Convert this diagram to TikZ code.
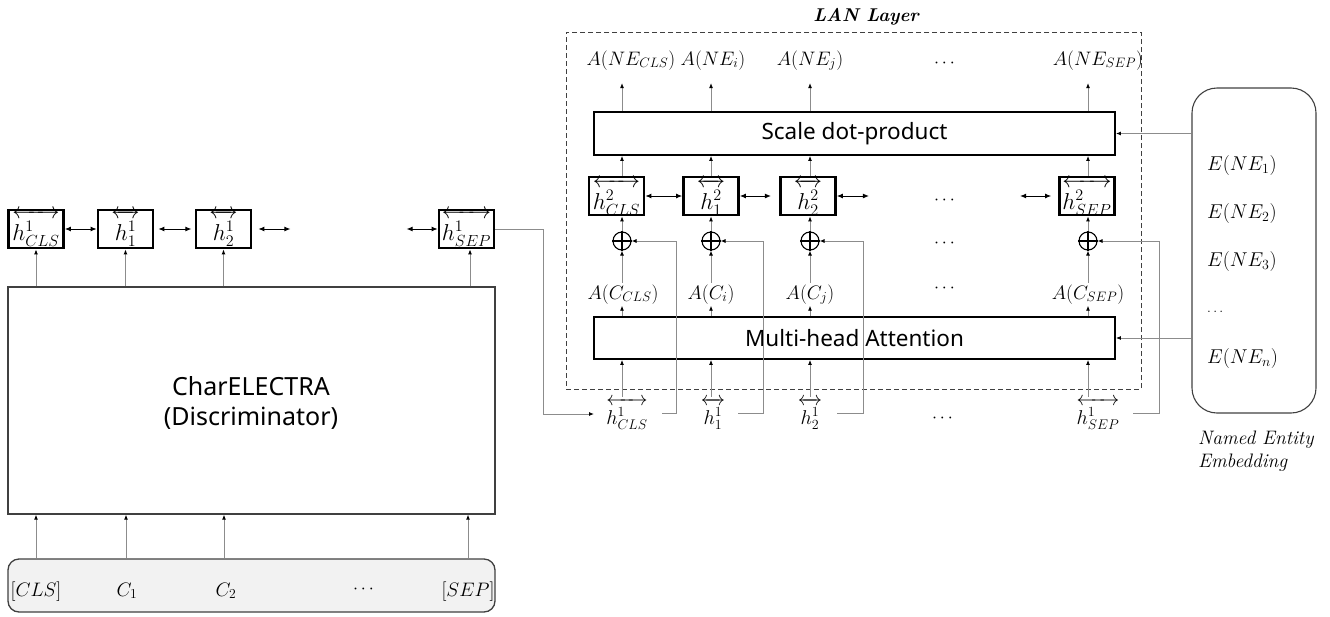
\RequirePackage{fix-cm}
\documentclass[tikz,border=0pt]{standalone}
\usepackage{amsmath}
\usepackage{fontspec}
\newfontfamily\uisans{Noto Sans}
\usetikzlibrary{arrows.meta,calc}
\definecolor{linegray}{HTML}{8C8C8C}
\definecolor{boxgray}{HTML}{404040}
\definecolor{inpfill}{HTML}{F2F2F2}
\newcommand{\hvec}[1]{\overleftrightarrow{\rule{0pt}{0.93em}#1}}
\begin{document}
\begin{tikzpicture}[x=1pt,y=-1pt,
  hbox/.style={draw=black, line width=2.8pt, minimum width=55pt, minimum height=38pt, inner sep=0pt,
    font=\fontsize{23}{26}\selectfont, text height=26pt, text depth=4pt},
  hboxr/.style={hbox, text height=30pt, text depth=4pt},
  bigbox/.style={draw=black, line width=1.8pt, inner sep=0pt, font=\uisans\fontsize{22.5}{26}\selectfont},
  flow/.style={draw=linegray, line width=0.9pt, -{Latex[length=5pt,width=4pt,black]}},
  link/.style={draw=black, line width=0.9pt, {Latex[length=6pt,width=5pt]}-{Latex[length=6pt,width=5pt]}},
  mlab/.style={font=\fontsize{19.5}{22}\selectfont, inner sep=1pt},
  alab/.style={mlab, text height=15pt, text depth=5.5pt, anchor=base},
  blab/.style={font=\fontsize{20}{22}\selectfont, inner sep=1pt, anchor=base},
  dots/.style={font=\fontsize{18}{20}\selectfont, inner sep=0pt, anchor=base},
  elab/.style={font=\fontsize{20}{22}\selectfont, inner sep=1pt, anchor=base west},
  plus/.style={draw=black, line width=1.1pt, circle, minimum size=18pt, inner sep=0pt},
]
\useasboundingbox (0,0) rectangle (1330,616);

% ---------------- left part ----------------
\node[draw=boxgray, line width=1.3pt, minimum width=487pt, minimum height=227pt, inner sep=0pt] (cel) at (251.5,400.5) {};
\node[font=\uisans\fontsize{25}{30}\selectfont, inner sep=0pt, anchor=base] (celA) at (251,395) {CharELECTRA};
\node[font=\uisans\fontsize{25}{30}\selectfont, inner sep=0pt, anchor=base] (celB) at (251,425) {(Discriminator)};

\node[draw=boxgray, line width=1.3pt, fill=inpfill, rounded corners=11pt, minimum width=487pt, minimum height=53pt, inner sep=0pt] (inp) at (251.5,585.5) {};
\node[alab] (i1) at (36,596) {$[CLS]$};
\node[alab] (i2) at (127,596) {$C_1$};
\node[alab] (i3) at (226,596) {$C_2$};
\node[dots] (i4) at (365,593.5) {$\cdots$};
\node[alab] (i5) at (468,596) {$[SEP]$};

\node[hbox] (hc) at (36,229) {$\hvec{h^1_{CLS}}$};
\node[hbox] (ha) at (125.5,229) {$\hvec{h^1_{1}}$};
\node[hbox] (hb) at (223.5,229) {$\hvec{h^1_{2}}$};
\node[hbox] (hs) at (466.5,229) {$\hvec{h^1_{SEP}}$};

% arrows input -> CharELECTRA
\draw[flow] (i1 |- inp.north) -- (i1 |- cel.south);
\draw[flow] ([xshift=-1pt]i2.north |- inp.north) -- ([xshift=-1pt]i2.north |- cel.south);
\draw[flow] ([xshift=-2pt]i3.north |- inp.north) -- ([xshift=-2pt]i3.north |- cel.south);
\draw[flow] (i5 |- inp.north) -- (i5 |- cel.south);
% arrows CharELECTRA -> h boxes
\draw[flow] (hc |- cel.north) -- (hc.south);
\draw[flow] (ha |- cel.north) -- (ha.south);
\draw[flow] (hb |- cel.north) -- (hb.south);
\draw[flow] ([xshift=3.5pt]hs.south |- cel.north) -- ([xshift=3.5pt]hs.south);
% bidirectional links
\draw[link] (hc.east) -- (ha.west);
\draw[link] ([xshift=4pt]ha.east) -- ++(33,0);
\draw[link] ([xshift=6pt]hb.east) -- ++(32,0);
\draw[link] (hs.west) -- ++(-31,0);

% ---------------- LAN layer ----------------
\node[draw=boxgray, dashed, dash pattern=on 5pt off 3pt, line width=0.9pt, minimum width=575pt, minimum height=357pt, inner sep=0pt] (lan) at (853.5,210.5) {};
\node[font=\bfseries\itshape\fontsize{18.5}{20}\selectfont, inner sep=0pt, anchor=base] (lant) at (866,21) {LAN Layer};

\node[bigbox, minimum width=521pt, minimum height=43pt] (sdp) at (854.5,133.5) {Scale dot-product};
\node[bigbox, minimum width=521pt, minimum height=42pt] (mha) at (854.5,338) {Multi-head Attention};

% top labels
\node[alab] (ne1) at (631,65) {$A(NE_{CLS})$};
\node[alab] (ne2) at (713,65) {$A(NE_i)$};
\node[alab] (ne3) at (810,65) {$A(NE_j)$};
\node[dots] (ne0) at (946,67) {$\cdots$};
\node[alab] (ne4) at (1098,65) {$A(NE_{SEP})$};

% h2 boxes
\node[hboxr] (g1) at (616.5,196) {$\hvec{h^2_{CLS}}$};
\node[hboxr] (g2) at (711,196) {$\hvec{h^2_{1}}$};
\node[hboxr] (g3) at (808,196) {$\hvec{h^2_{2}}$};
\node[hboxr] (g4) at (1087,196) {$\hvec{h^2_{SEP}}$};
\node[dots] (g0) at (946,204.5) {$\cdots$};

% plus circles
\node[plus] (p1) at (622,241) {};
\node[plus] (p2) at (711,241) {};
\node[plus] (p3) at (810,241) {};
\node[plus] (p4) at (1088,241) {};
\foreach \p in {p1,p2,p3,p4}{
  \draw[line width=1.1pt] (\p.north) -- (\p.south) (\p.west) -- (\p.east);
}
\node[dots] (p0) at (946,247.5) {$\cdots$};

% A(C) labels
\node[alab] (ac1) at (623,299) {$A(C_{CLS})$};
\node[alab] (ac2) at (711,299) {$A(C_i)$};
\node[alab] (ac3) at (810,299) {$A(C_j)$};
\node[dots] (ac0) at (946,292.5) {$\cdots$};
\node[alab] (ac4) at (1088,299) {$A(C_{SEP})$};

% bottom h1 labels
\node[blab] (l1) at (627,424) {$\hvec{h^1_{CLS}}$};
\node[blab] (l2) at (713,424) {$\hvec{h^1_{1}}$};
\node[blab] (l3) at (810,424) {$\hvec{h^1_{2}}$};
\node[dots] (l0) at (944,422.5) {$\cdots$};
\node[blab] (l4) at (1098,424) {$\hvec{h^1_{SEP}}$};

% vertical flows
\foreach \i in {1,2,3,4}{
  \draw[flow] (p\i |- l\i.north) -- (p\i |- mha.south);
  \draw[flow] (p\i |- mha.north) -- (p\i |- ac\i.south);
  \draw[flow] (p\i |- ac\i.north) -- (p\i.south);
  \draw[flow] (p\i.north) -- (p\i |- g\i.south);
  \draw[flow] (p\i |- g\i.north) -- (p\i |- sdp.south);
  \draw[flow] (p\i |- sdp.north) -- ++(0,-28);
}

% bidirectional links h2
\draw[link] (g1.east) -- (g2.west);
\draw[link] (g2.east) -- ++(31,0);
\draw[link] (g3.east) -- ++(32,0);
\draw[link] ([xshift=-7pt]g4.west) -- ++(-31,0);

% residual connections
\coordinate (r1) at (662,413); \coordinate (k1) at (676,413);
\coordinate (r2) at (738,413); \coordinate (k2) at (763,413);
\coordinate (r3) at (837,413); \coordinate (k3) at (863,413);
\coordinate (r4) at (1133,413); \coordinate (k4) at (1159,413);
\foreach \i in {1,2,3,4}{
  \draw[flow] (r\i) -- (k\i) |- (p\i.east);
}

% link from CharELECTRA to LAN layer
\coordinate (j0) at (543,414);
\coordinate (t0) at (594,414);
\draw[flow] (hs.east) -| (j0) -- (t0);

% ---------------- Named entity embedding ----------------
\node[draw=boxgray, line width=1.1pt, rounded corners=25pt, minimum width=124pt, minimum height=325pt, inner sep=0pt] (neb) at (1254,250.5) {};
\node[elab] (e1) at (1206,170) {$E(NE_1)$};
\node[elab] (e2) at (1206,218) {$E(NE_2)$};
\node[elab] (e3) at (1206,266) {$E(NE_3)$};
\node[dots, anchor=base west, font=\fontsize{14}{16}\selectfont] (e0) at (1207,312) {$\ldots$};
\node[elab] (en) at (1206,363) {$E(NE_n)$};
\node[font=\itshape\fontsize{19.5}{22}\selectfont, inner sep=0pt, anchor=base west] (nt1) at (1198,444) {Named Entity};
\node[font=\itshape\fontsize{19.5}{22}\selectfont, inner sep=0pt, anchor=base west] (nt2) at (1198,467) {Embedding};

\draw[flow] (neb.west |- sdp.east) -- (sdp.east);
\draw[flow] (neb.west |- mha.east) -- (mha.east);
\end{tikzpicture}
\end{document}
